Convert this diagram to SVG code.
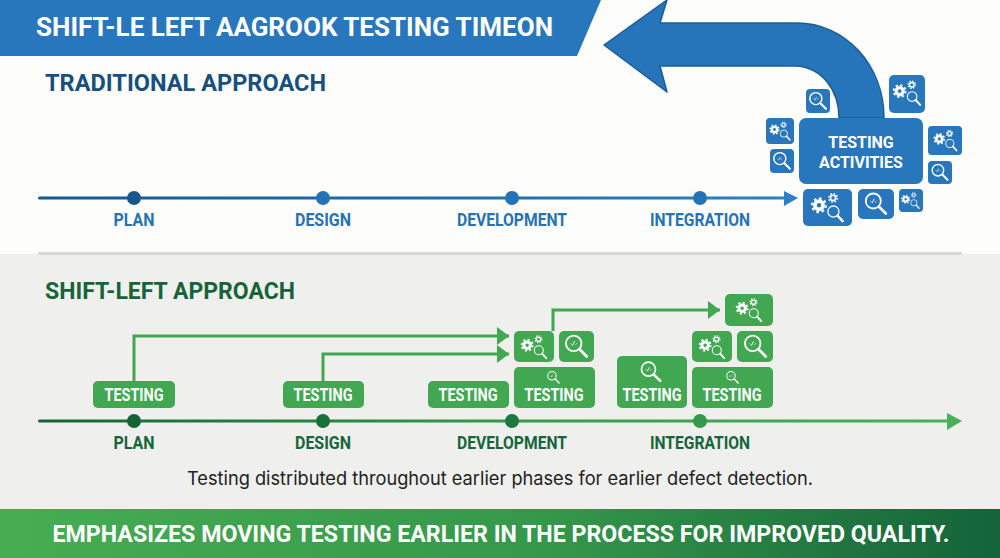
<svg xmlns="http://www.w3.org/2000/svg" width="1000" height="558" viewBox="0 0 1000 558">
<style>
text{font-family:Roboto,"Liberation Sans",sans-serif;font-weight:700}
.b{fill:#2876bb}.g{fill:#41a751}
.lb{font-size:18px;fill:#2473b6;text-anchor:middle}
.lg{font-size:18px;fill:#15663a;text-anchor:middle}
.tt{font-size:18px;fill:#fff;text-anchor:middle}
.ta{font-size:16px;fill:#fff;text-anchor:middle}
</style>
<defs>
<linearGradient id="blueline" x1="0" x2="1"><stop offset="0" stop-color="#17578f"/><stop offset="1" stop-color="#2b80c6"/></linearGradient>
<linearGradient id="greenline" x1="0" x2="1"><stop offset="0" stop-color="#156438"/><stop offset=".5" stop-color="#35994a"/><stop offset="1" stop-color="#47b05a"/></linearGradient>
<linearGradient id="foot" x1="0" x2="1"><stop offset="0" stop-color="#47ad52"/><stop offset=".55" stop-color="#35974a"/><stop offset="1" stop-color="#14633a"/></linearGradient>
<marker id="ag" markerUnits="userSpaceOnUse" markerWidth="13" markerHeight="18" refX="12" refY="9" orient="auto"><path d="M0 0L12 9L0 18Z" fill="#41a751"/></marker>
<symbol id="mag" viewBox="0 0 100 100">
<circle cx="41" cy="40" r="25" fill="none" stroke="#fff" stroke-width="6"/>
<path d="M60 59L83 82" stroke="#fff" stroke-width="9" stroke-linecap="round"/>
<path d="M37 47l7-14M31 40l4 4M51 40l-4 4" stroke="#fff" stroke-width="3" fill="none"/>
</symbol>
<symbol id="gear" viewBox="0 0 100 100">
<circle cx="27" cy="44" r="11" fill="none" stroke="#fff" stroke-width="10"/>
<circle cx="27" cy="44" r="18.500" fill="none" stroke="#fff" stroke-width="6" pathLength="16" stroke-dasharray="1 1"/>
<circle cx="65" cy="24" r="7" fill="none" stroke="#fff" stroke-width="4.500"/>
<circle cx="65" cy="24" r="11.500" fill="none" stroke="#fff" stroke-width="4" pathLength="16" stroke-dasharray="1 1"/>
<circle cx="66" cy="61" r="15" fill="none" stroke="#fff" stroke-width="3.500"/>
<path d="M77 72L91 87" stroke="#fff" stroke-width="6.500" stroke-linecap="round"/>
</symbol>
</defs>

<rect width="1000" height="254" fill="#fdfdfc"/>
<rect y="254" width="1000" height="256" fill="#efefed"/>
<rect x="38" y="252" width="924" height="3" fill="#d8d8d6"/>

<g id="title-banner">
<path d="M0 0H601L577 56H0Z" fill="#2877bc"/>
<text x="36" y="36" font-size="25" fill="#fff" textLength="517" lengthAdjust="spacingAndGlyphs">SHIFT-LE LEFT AAGROOK TESTING TIMEON</text>
</g>
<g id="traditional-heading"><text x="45" y="91" font-size="24" fill="#17507f" textLength="281" lengthAdjust="spacingAndGlyphs">TRADITIONAL APPROACH</text></g>
<g id="shift-left-heading"><text x="45" y="299" font-size="24" fill="#17633a" textLength="250" lengthAdjust="spacingAndGlyphs">SHIFT-LEFT APPROACH</text></g>

<g id="connectors">
<path d="M604 45L667 0L660 23H797C845 23 884 65 884 118H839C839 90 822 68 797 66H660L667 92Z" fill="#2675ba" stroke="#1d5c96" stroke-width="1.500" stroke-linejoin="round"/>
<rect x="38" y="196.500" width="750" height="3" rx="1.500" fill="url(#blueline)"/>
<path d="M784 191L798 198L784 206Z" fill="#2b80c6"/>
<rect x="38" y="419.500" width="912" height="3" rx="1.500" fill="url(#greenline)"/>
<path d="M947 413L962 421L947 430Z" fill="#47b05a"/>
<g fill="none" stroke="#41a751" stroke-width="3">
<path d="M134 381V336H509" marker-end="url(#ag)"/>
<path d="M323 381V354H509" marker-end="url(#ag)"/>
<path d="M553 331V310H720" marker-end="url(#ag)"/>
</g>
</g>

<g id="trad-plan"><circle cx="134" cy="198" r="7" fill="#17578f"/><text class="lb" x="134" y="225.500" textLength="41" lengthAdjust="spacingAndGlyphs">PLAN</text></g>
<g id="trad-design"><circle cx="323" cy="198" r="7" fill="#2473b6"/><text class="lb" x="323" y="225.500" textLength="56" lengthAdjust="spacingAndGlyphs">DESIGN</text></g>
<g id="trad-development"><circle cx="512" cy="198" r="7" fill="#2473b6"/><text class="lb" x="512" y="225.500" textLength="110" lengthAdjust="spacingAndGlyphs">DEVELOPMENT</text></g>
<g id="trad-integration"><circle cx="700" cy="198" r="7" fill="#2473b6"/><text class="lb" x="700" y="225.500" textLength="100" lengthAdjust="spacingAndGlyphs">INTEGRATION</text></g>

<g id="testing-activities">
<rect class="b" x="799" y="118" width="124" height="66" rx="7"/>
<text class="ta" x="861" y="148">TESTING</text>
<text class="ta" x="861" y="167.500">ACTIVITIES</text>
</g>
<g id="tile-b1"><rect class="b" x="806" y="89" width="24" height="24" rx="4"/><use href="#mag" x="806" y="89" width="24" height="24"/></g>
<g id="tile-b2"><rect class="b" x="889" y="75" width="36" height="38" rx="5"/><use href="#gear" x="891" y="77" width="32" height="32"/></g>
<g id="tile-b3"><rect class="b" x="766" y="118" width="28" height="26" rx="4"/><use href="#gear" x="768" y="119" width="24" height="24"/></g>
<g id="tile-b4"><rect class="b" x="770" y="149" width="24" height="24" rx="4"/><use href="#mag" x="770" y="149" width="24" height="24"/></g>
<g id="tile-b5"><rect class="b" x="928" y="126" width="34" height="29" rx="4"/><use href="#gear" x="932" y="127" width="27" height="27"/></g>
<g id="tile-b6"><rect class="b" x="928" y="161" width="24" height="23" rx="4"/><use href="#mag" x="928" y="161" width="24" height="23"/></g>
<g id="tile-b7"><rect class="b" x="803" y="189" width="49" height="37" rx="5"/><use href="#gear" x="809" y="189" width="37" height="37"/></g>
<g id="tile-b8"><rect class="b" x="858" y="189" width="36" height="30" rx="5"/><use href="#mag" x="861" y="189" width="30" height="30"/></g>
<g id="tile-b9"><rect class="b" x="899" y="189" width="24" height="23" rx="4"/><use href="#gear" x="900" y="190" width="21" height="21"/></g>

<g id="green-plan"><rect class="g" x="93" y="381" width="82" height="27" rx="5"/><text class="tt" x="134" y="400.500" textLength="59" lengthAdjust="spacingAndGlyphs">TESTING</text><circle cx="134" cy="421" r="7" fill="#156438"/><text class="lg" x="134" y="448.500" textLength="41" lengthAdjust="spacingAndGlyphs">PLAN</text></g>
<g id="green-design"><rect class="g" x="283" y="381" width="81" height="27" rx="5"/><text class="tt" x="323" y="400.500" textLength="59" lengthAdjust="spacingAndGlyphs">TESTING</text><circle cx="323" cy="421" r="7" fill="#1a6f3d"/><text class="lg" x="323" y="448.500" textLength="56" lengthAdjust="spacingAndGlyphs">DESIGN</text></g>
<g id="green-development"><rect class="g" x="428" y="381" width="81" height="27" rx="5"/><text class="tt" x="468" y="400.500" textLength="59" lengthAdjust="spacingAndGlyphs">TESTING</text><circle cx="512" cy="421" r="7" fill="#1f7a41"/><text class="lg" x="512" y="448.500" textLength="110" lengthAdjust="spacingAndGlyphs">DEVELOPMENT</text></g>
<g id="green-integration"><circle cx="700" cy="421" r="7" fill="#35994a"/><text class="lg" x="700" y="448.500" textLength="100" lengthAdjust="spacingAndGlyphs">INTEGRATION</text></g>

<g id="tile-g1"><rect class="g" x="514" y="331" width="40" height="31" rx="5"/><use href="#gear" x="519" y="332" width="30" height="30"/></g>
<g id="tile-g2"><rect class="g" x="559" y="331" width="35" height="31" rx="5"/><use href="#mag" x="561" y="331" width="31" height="31"/></g>
<g id="tile-g3"><rect class="g" x="514" y="367" width="81" height="41" rx="5"/><use href="#mag" x="545" y="369" width="17" height="17"/><text class="tt" x="554" y="400.500" textLength="59" lengthAdjust="spacingAndGlyphs">TESTING</text></g>
<g id="tile-g4"><rect class="g" x="617" y="356" width="70" height="52" rx="5"/><use href="#mag" x="637" y="358" width="28" height="28"/><text class="tt" x="652" y="400.500" textLength="59" lengthAdjust="spacingAndGlyphs">TESTING</text></g>
<g id="tile-g5"><rect class="g" x="692" y="331" width="40" height="31" rx="5"/><use href="#gear" x="697" y="332" width="30" height="30"/></g>
<g id="tile-g6"><rect class="g" x="737" y="331" width="36" height="31" rx="5"/><use href="#mag" x="740" y="331" width="31" height="31"/></g>
<g id="tile-g7"><rect class="g" x="692" y="367" width="81" height="41" rx="5"/><use href="#mag" x="724" y="369" width="17" height="17"/><text class="tt" x="732" y="400.500" textLength="59" lengthAdjust="spacingAndGlyphs">TESTING</text></g>
<g id="tile-g8"><rect class="g" x="725" y="294" width="48" height="32" rx="5"/><use href="#gear" x="734" y="295" width="30" height="30"/></g>

<g id="caption"><text x="500" y="485" font-size="18.500" fill="#222" text-anchor="middle" style="font-family:Inter,'Liberation Sans',sans-serif;font-weight:400" textLength="626" lengthAdjust="spacingAndGlyphs">Testing distributed throughout earlier phases for earlier defect detection.</text></g>

<g id="footer-banner">
<rect y="509" width="1000" height="49" fill="url(#foot)"/>
<text x="501" y="542" font-size="24" fill="#fff" text-anchor="middle" textLength="897" lengthAdjust="spacingAndGlyphs">EMPHASIZES MOVING TESTING EARLIER IN THE PROCESS FOR IMPROVED QUALITY.</text>
</g>
</svg>
